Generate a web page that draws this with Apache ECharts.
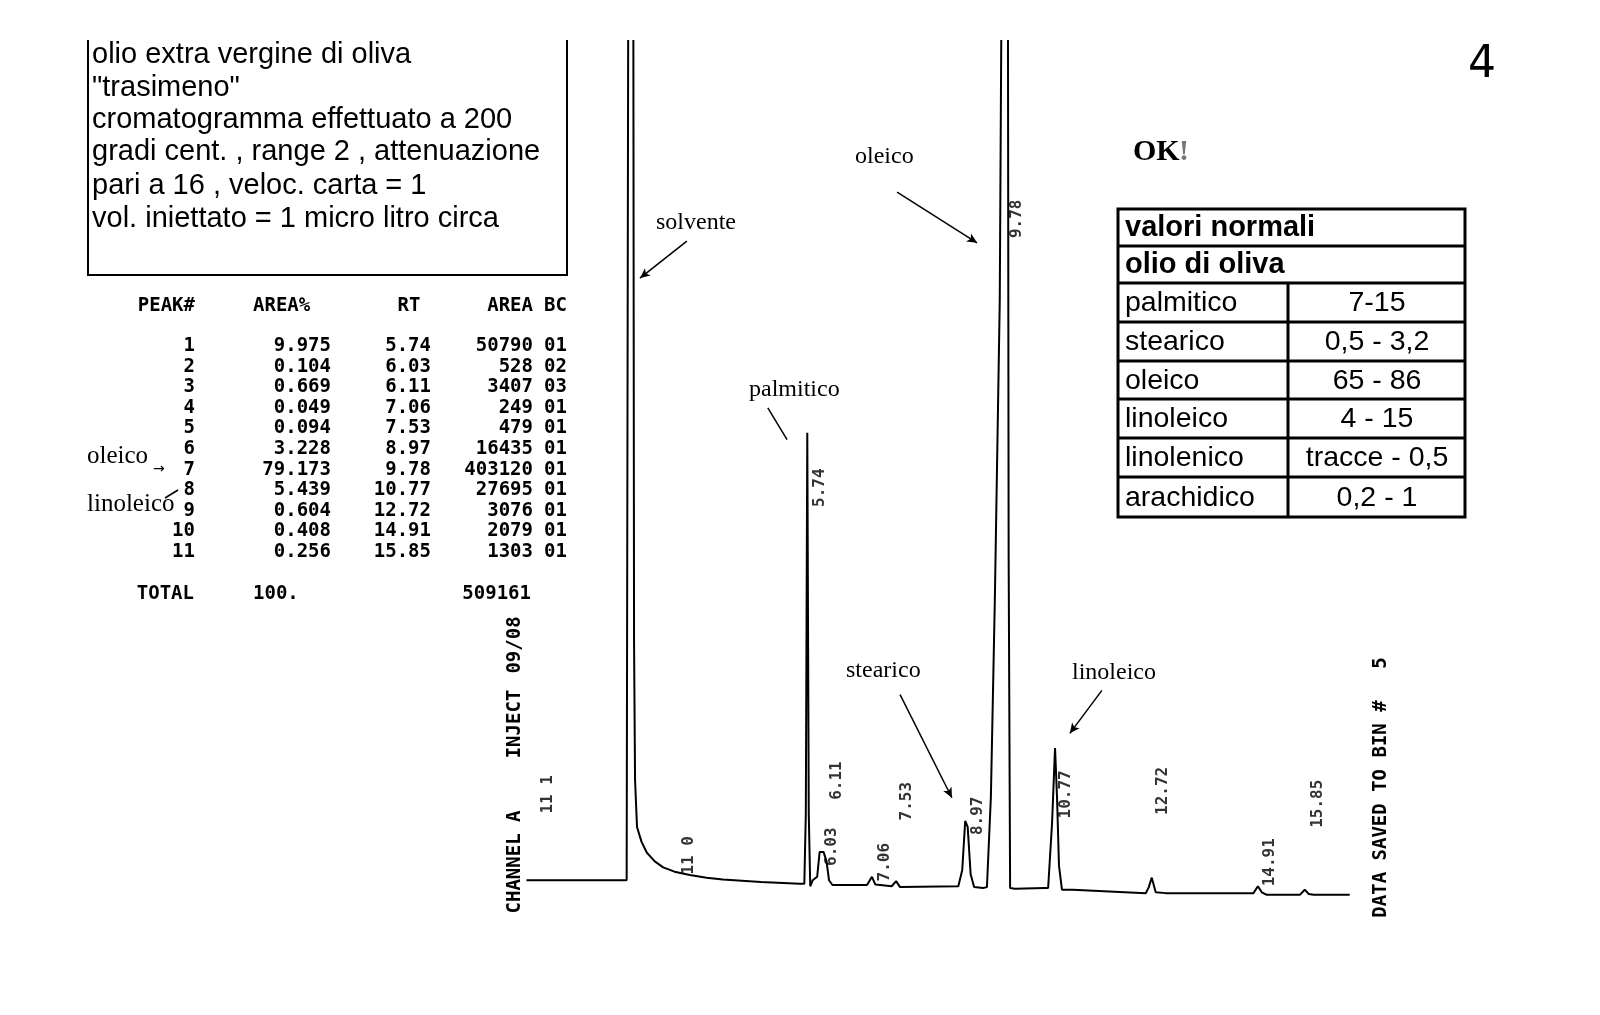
<!DOCTYPE html>
<html>
<head>
<meta charset="utf-8">
<title>cromatogramma olio extra vergine di oliva</title>
<script src="https://cdn.jsdelivr.net/npm/echarts@6/dist/echarts.min.js"></script>
<style>
  html, body { margin: 0; padding: 0; background: #fff; }
  #main { width: 1600px; height: 1015px; }
</style>
</head>
<body>
<div id="main"></div>
<script>
// tracciato del rivelatore: tempo (min) e segnale (unita' arbitrarie, 100 = fondo scala)
var traceTime = [0.05, 1.00, 2.08, 2.11, 2.12, 2.21, 2.23, 2.25, 2.29, 2.38, 2.49, 2.65, 2.82, 3.05, 3.36, 3.70, 4.03, 4.80, 5.59,
    5.68, 5.71, 5.74, 5.77, 5.80, 5.85, 5.94, 5.99, 6.07, 6.13, 6.18, 6.25, 6.95, 7.05, 7.12, 7.45, 7.54, 7.62,
    8.80, 8.88, 8.94, 8.99, 9.05, 9.12, 9.30, 9.38, 9.46, 9.54, 9.64, 9.70, 9.80, 9.82, 9.85, 9.95, 10.55,
    10.62, 10.70, 10.76, 10.80, 10.84, 10.90, 11.12, 12.60, 12.66, 12.72, 12.80, 13.00, 14.00, 14.78,
    14.80, 14.87, 14.95, 15.05, 15.72, 15.82, 15.90, 16.00, 16.73];
var traceSignal = [2.3, 2.3, 2.3, 2.4, 130, 130, 30, 14, 8.5, 6.8, 5.5, 4.5, 3.8, 3.3, 2.9, 2.6, 2.4, 2.1, 1.9,
    1.9, 10, 54.4, 10, 1.6, 2.3, 2.7, 5.6, 5.6, 4.5, 2.3, 1.75, 1.75, 2.7, 1.8, 1.6, 2.2, 1.5,
    1.6, 3.5, 9.2, 8.5, 3.0, 1.5, 1.4, 1.5, 12, 34.9, 69.8, 130, 130, 40, 1.4, 1.3, 1.4,
    1.4, 9, 17.7, 12, 4, 1.2, 1.2, 0.8, 1.5, 2.6, 0.9, 0.8, 0.8, 0.8,
    0.8, 1.6, 0.9, 0.6, 0.6, 1.2, 0.7, 0.6, 0.6];

// tabella dei picchi (stampa dell'integratore)
var peakNo = ['1', '2', '3', '4', '5', '6', '7', '8', '9', '10', '11'];
var areaPct = ['9.975', '0.104', '0.669', '0.049', '0.094', '3.228', '79.173', '5.439', '0.604', '0.408', '0.256'];
var peakRT = ['5.74', '6.03', '6.11', '7.06', '7.53', '8.97', '9.78', '10.77', '12.72', '14.91', '15.85'];
var peakArea = ['50790', '528', '3407', '249', '479', '16435', '403120', '27695', '3076', '2079', '1303'];
var peakBC = ['01', '02', '03', '01', '01', '01', '01', '01', '01', '01', '01'];
var totalPct = '100.';
var totalArea = '509161';

// valori normali olio di oliva
var acidNames = ['palmitico', 'stearico', 'oleico', 'linoleico', 'linolenico', 'arachidico'];
var acidRanges = ['7-15', '0,5 - 3,2', '65 - 86', '4 - 15', 'tracce - 0,5', '0,2 - 1'];

var noteLines = ['olio extra vergine di oliva', '"trasimeno"', 'cromatogramma effettuato a 200',
    'gradi cent. , range 2 , attenuazione', 'pari a 16 , veloc. carta = 1', 'vol. iniettato = 1 micro litro circa'];

// dove stampare i tempi di ritenzione accanto ai picchi (coordinate del grafico)
var rtLabelAt = [[6.00, 48.0], [6.24, 6.2], [6.34, 13.9], [7.31, 4.4], [7.76, 11.5], [9.20, 9.8],
    [9.99, 79.3], [10.98, 12.3], [12.95, 12.7], [15.11, 4.4], [16.09, 11.2]];
var markAt = [[3.34, 5.2, '11 0'], [0.49, 12.3, '11 1']];

var traceData = [];
for (var i = 0; i < traceTime.length; i++) {
    traceData.push([traceTime[i], traceSignal[i]]);
}
var rtData = [];
for (var i = 0; i < peakRT.length; i++) {
    rtData.push({value: rtLabelAt[i], name: peakRT[i]});
}
for (var i = 0; i < markAt.length; i++) {
    rtData.push({value: [markAt[i][0], markAt[i][1]], name: markAt[i][2]});
}

var mono = 'bold 19px "DejaVu Sans Mono"';
var serif = '24px "Liberation Serif"';
var graphics = [];

function txt(x, y, s, font, align, extra) {
    var g = {type: 'text', x: x, y: y, style: {text: s, font: font, fill: '#000', textAlign: align || 'left', textVerticalAlign: 'middle'}};
    if (extra) { for (var k in extra) g[k] = extra[k]; }
    graphics.push(g);
}
function ln(x1, y1, x2, y2, w) {
    graphics.push({type: 'line', shape: {x1: x1, y1: y1, x2: x2, y2: y2}, style: {stroke: '#000', lineWidth: w || 2}});
}

// riquadro delle note
ln(88, 40, 88, 276, 2);
ln(567, 40, 567, 276, 2);
ln(87, 275, 568, 275, 2);
var noteY = [55, 88, 120, 152, 186, 219];
for (var i = 0; i < noteLines.length; i++) {
    txt(92, noteY[i], noteLines[i], '29px "Liberation Sans"');
}

// tabella picchi
txt(195, 306, 'PEAK#', mono, 'right');
txt(253, 306, 'AREA%', mono, 'left');
txt(409, 306, 'RT', mono, 'center');
txt(533, 306, 'AREA', mono, 'right');
txt(567, 306, 'BC', mono, 'right');
for (var i = 0; i < peakNo.length; i++) {
    var y = 346 + i * 20.6;
    txt(195, y, peakNo[i], mono, 'right');
    txt(331, y, areaPct[i], mono, 'right');
    txt(431, y, peakRT[i], mono, 'right');
    txt(533, y, peakArea[i], mono, 'right');
    txt(567, y, peakBC[i], mono, 'right');
}
txt(194, 594, 'TOTAL', mono, 'right');
txt(253, 594, totalPct, mono, 'left');
txt(531, 594, totalArea, mono, 'right');
txt(87, 456, 'oleico', '25px "Liberation Serif"');
txt(153, 469, '\u2192', '14px "DejaVu Sans"');
txt(87, 504, 'linoleico', '25px "Liberation Serif"');
ln(165, 498, 178, 490, 1.5);

// scritte verticali dell'integratore
txt(515, 862, 'CHANNEL A', mono, 'center', {rotation: Math.PI / 2});
txt(515, 724, 'INJECT', mono, 'center', {rotation: Math.PI / 2});
txt(515, 645, '09/08', mono, 'center', {rotation: Math.PI / 2});
txt(1381, 809, 'DATA SAVED TO BIN #', mono, 'center', {rotation: Math.PI / 2});
txt(1381, 663, '5', mono, 'center', {rotation: Math.PI / 2});

// nomi dei picchi
txt(656, 223, 'solvente', serif);
txt(855, 157, 'oleico', serif);
txt(749, 390, 'palmitico', serif);
txt(846, 671, 'stearico', serif);
txt(1072, 673, 'linoleico', serif);

// OK! e numero pagina
txt(1133, 152, 'OK', 'bold 30px "Liberation Serif"');
txt(1179, 152, '!', 'bold 30px "Liberation Serif"', 'left', {style: {text: '!', font: 'bold 30px "Liberation Serif"', fill: '#777', textVerticalAlign: 'middle'}});
txt(1482, 66, '4', '44px "DejaVu Sans ExtraLight", "DejaVu Sans"', 'center');

// tabella valori normali
var tL = 1118, tR = 1465, tCol = 1288;
var rowY = [209, 246, 283, 322, 361, 399, 438, 477, 517];
graphics.push({type: 'rect', shape: {x: tL, y: rowY[0], width: tR - tL, height: rowY[8] - rowY[0]},
    style: {fill: 'none', stroke: '#000', lineWidth: 3}});
for (var i = 1; i < 8; i++) ln(tL, rowY[i], tR, rowY[i], 3);
ln(tCol, rowY[2], tCol, rowY[8], 3);
txt(1125, 228, 'valori normali', 'bold 29px "Liberation Sans"');
txt(1125, 265, 'olio di oliva', 'bold 29px "Liberation Sans"');
for (var i = 0; i < acidNames.length; i++) {
    var yc = (rowY[i + 2] + rowY[i + 3]) / 2 + 1;
    txt(1125, yc, acidNames[i], '28.5px "Liberation Sans"');
    txt(1377, yc, acidRanges[i], '28.5px "Liberation Sans"', 'center');
}

var arrowLines = [
    [[3.30, 76.7], [2.35, 72.4], 'arrow'],
    [[7.56, 82.4], [9.18, 76.5], 'arrow'],
    [[4.94, 57.3], [5.33, 53.6], 'none'],
    [[7.62, 23.9], [8.67, 11.9], 'arrow'],
    [[11.71, 24.4], [11.06, 19.4], 'arrow']
];
var markLines = [];
for (var i = 0; i < arrowLines.length; i++) {
    markLines.push([
        {coord: arrowLines[i][0], symbol: 'none'},
        {coord: arrowLines[i][1], symbol: arrowLines[i][2], symbolSize: [7, 10]}
    ]);
}

var chart = echarts.init(document.getElementById('main'));
chart.setOption({
    animation: false,
    backgroundColor: '#fff',
    grid: {left: 524, right: 237, top: 41, bottom: 115},
    xAxis: {type: 'value', min: 0, max: 17, show: false},
    yAxis: {type: 'value', min: 0, max: 100, show: false},
    graphic: graphics,
    series: [
        {
            name: 'segnale',
            type: 'line',
            data: traceData,
            showSymbol: false,
            clip: true,
            lineStyle: {color: '#000', width: 2},
            markLine: {
                silent: true,
                label: {show: false},
                lineStyle: {color: '#000', width: 1.5, type: 'solid'},
                data: markLines
            }
        },
        {
            name: 'tempi',
            type: 'scatter',
            data: rtData,
            symbolSize: 0,
            label: {
                show: true,
                position: 'inside',
                rotate: 90,
                formatter: '{b}',
                color: '#000',
                fontFamily: 'DejaVu Sans Mono',
                fontWeight: 'bold',
                fontSize: 16
            }
        }
    ]
});
</script>
</body>
</html>
